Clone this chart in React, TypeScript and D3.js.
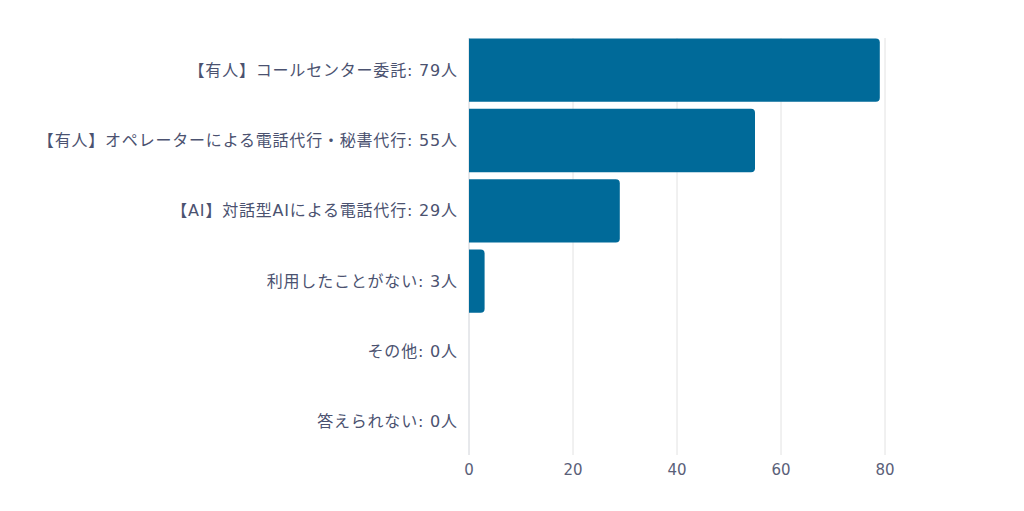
import { useEffect, useRef } from 'react';
import * as d3 from 'd3';

const categories = [
  '【有人】コールセンター委託',
  '【有人】オペレーターによる電話代行・秘書代行',
  '【AI】対話型AIによる電話代行',
  '利用したことがない',
  'その他',
  '答えられない',
];
const counts = [79, 55, 29, 3, 0, 0];
const xTicks = [0, 20, 40, 60, 80];

const WIDTH = 1024;
const HEIGHT = 511;
const BAR_COLOR = '#006a99';
const TEXT_COLOR = '#4b5270';
const GRID_COLOR = '#e2e2e2';
const FONT = '"DejaVu Sans", "Noto Sans CJK JP", sans-serif';

export default function App() {
  const svgRef = useRef<SVGSVGElement>(null);

  useEffect(() => {
    if (!svgRef.current) return;
    const svg = d3.select(svgRef.current);
    svg.selectAll('*').remove();

    const x = d3.scaleLinear().domain([0, 80]).range([469, 885]);
    const y = d3.scaleBand<string>()
      .domain(categories)
      .range([35, 457])
      .paddingInner(0.1)
      .paddingOuter(0.05);

    const gridTop = 38;
    const gridBottom = 455;

    // vertical grid lines
    svg.append('g')
      .selectAll('line')
      .data(xTicks)
      .enter()
      .append('line')
      .attr('x1', d => x(d))
      .attr('x2', d => x(d))
      .attr('y1', gridTop)
      .attr('y2', gridBottom)
      .attr('stroke', d => (d === 0 ? '#cfd2d8' : GRID_COLOR))
      .attr('stroke-width', 1);

    // bars with rounded right corners
    const r = 4;
    svg.append('g')
      .selectAll('path')
      .data(categories.map((c, i) => ({ c, v: counts[i] })).filter(d => d.v > 0))
      .enter()
      .append('path')
      .attr('fill', BAR_COLOR)
      .attr('d', d => {
        const x0 = x(0);
        const x1 = x(d.v);
        const y0 = y(d.c)!;
        const h = y.bandwidth();
        const rr = Math.min(r, (x1 - x0) / 2);
        return `M${x0},${y0}H${x1 - rr}Q${x1},${y0} ${x1},${y0 + rr}V${y0 + h - rr}Q${x1},${y0 + h} ${x1 - rr},${y0 + h}H${x0}Z`;
      });

    // category labels
    svg.append('g')
      .selectAll('text')
      .data(categories)
      .enter()
      .append('text')
      .attr('x', 457.8)
      .attr('y', d => y(d)! + y.bandwidth() / 2)
      .attr('dy', '0.35em')
      .attr('text-anchor', 'end')
      .attr('font-family', FONT)
      .attr('font-size', 16)
      .attr('letter-spacing', 0.8)
      .attr('fill', TEXT_COLOR)
      .text((d, i) => `${d}: ${counts[i]}人`);

    // x tick labels
    svg.append('g')
      .selectAll('text')
      .data(xTicks)
      .enter()
      .append('text')
      .attr('x', d => x(d))
      .attr('y', 470)
      .attr('dy', '0.35em')
      .attr('text-anchor', 'middle')
      .attr('font-family', FONT)
      .attr('font-size', 15)
      .attr('fill', '#5a6078')
      .text(d => d);
  }, []);

  return (
    <div style={{ position: 'fixed', left: 0, top: 0, width: WIDTH, height: HEIGHT, background: '#fff' }}>
      <svg ref={svgRef} width={WIDTH} height={HEIGHT} />
    </div>
  );
}
